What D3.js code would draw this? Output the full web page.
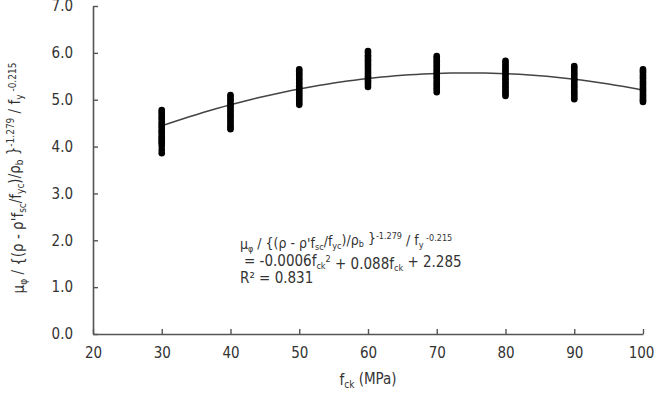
<!DOCTYPE html>
<html>
<head>
<meta charset="utf-8">
<script src="https://cdn.jsdelivr.net/npm/d3@7"></script>
<style>
  body { margin: 0; background: #fff; }
  svg text { font-family: "DejaVu Sans Condensed", "Liberation Sans Narrow", sans-serif; fill: #333; }
</style>
</head>
<body>
<div id="chart"></div>
<script>
// f_ck groups (MPa)
const fckGroups = [30, 40, 50, 60, 70, 80, 90, 100];
// values read from each vertical cluster
const vals30 = [4.78, 4.74, 4.70, 4.65, 4.61, 4.57, 4.52, 4.48, 4.44, 4.40, 4.35, 4.31, 4.27, 4.22, 4.18, 4.14, 4.10, 4.07, 4.01, 3.93, 3.86];
const vals40 = [5.10, 5.06, 5.01, 4.97, 4.92, 4.88, 4.84, 4.79, 4.75, 4.70, 4.66, 4.62, 4.57, 4.53, 4.48, 4.44, 4.40, 4.37];
const vals50 = [5.65, 5.61, 5.56, 5.52, 5.47, 5.43, 5.38, 5.34, 5.29, 5.25, 5.20, 5.16, 5.11, 5.07, 5.02, 4.98, 4.93, 4.89];
const vals60 = [6.04, 6.00, 5.95, 5.91, 5.86, 5.82, 5.77, 5.73, 5.68, 5.64, 5.59, 5.55, 5.50, 5.46, 5.41, 5.37, 5.32, 5.27];
const vals70 = [5.93, 5.89, 5.84, 5.80, 5.75, 5.71, 5.66, 5.62, 5.57, 5.53, 5.48, 5.44, 5.39, 5.34, 5.30, 5.25, 5.21, 5.16];
const vals80 = [5.83, 5.79, 5.74, 5.70, 5.65, 5.61, 5.56, 5.52, 5.47, 5.43, 5.38, 5.34, 5.29, 5.25, 5.20, 5.16, 5.12, 5.08];
const vals90 = [5.72, 5.68, 5.64, 5.59, 5.55, 5.51, 5.46, 5.42, 5.38, 5.33, 5.29, 5.25, 5.20, 5.16, 5.12, 5.08, 5.04, 5.01];
const vals100 = [5.65, 5.61, 5.57, 5.52, 5.48, 5.44, 5.39, 5.35, 5.31, 5.26, 5.22, 5.18, 5.13, 5.09, 5.05, 5.01, 4.98, 4.95];
const groupVals = [vals30, vals40, vals50, vals60, vals70, vals80, vals90, vals100];

// quadratic trend line (a, b, c), as drawn in the picture
const trendCoef = [-0.00057, 0.085, 2.404];

const xTicks = [20, 30, 40, 50, 60, 70, 80, 90, 100];
const yTicks = [0, 1, 2, 3, 4, 5, 6, 7];

const width = 655;
const height = 411;
const margin = { top: 6, right: 12, bottom: 77, left: 93 };
const innerWidth = width - margin.left - margin.right;
const innerHeight = height - margin.top - margin.bottom;

const svg = d3.select("#chart")
  .append("svg")
  .attr("width", width)
  .attr("height", height);

const g = svg.append("g")
  .attr("transform", `translate(${margin.left},${margin.top})`);

const x = d3.scaleLinear().domain([20, 100]).range([0, innerWidth]);
const y = d3.scaleLinear().domain([0, 7]).range([innerHeight, 0]);

// Axes (ticks point inward)
const xAxis = g.append("g")
  .attr("transform", `translate(0,${innerHeight})`)
  .call(d3.axisBottom(x).tickValues(xTicks).tickSizeInner(-5).tickSizeOuter(0).tickPadding(13));
const yAxis = g.append("g")
  .call(d3.axisLeft(y).tickValues(yTicks).tickSizeInner(-5).tickSizeOuter(0).tickPadding(20).tickFormat(d3.format(".1f")));

[xAxis, yAxis].forEach(a => {
  a.select(".domain").attr("stroke", "#555").attr("stroke-width", 1.6);
  a.selectAll(".tick line").attr("stroke", "#555").attr("stroke-width", 1.4);
  a.selectAll(".tick text").style("font-size", "15px").attr("fill", "#444");
});
xAxis.selectAll(".tick text").filter(d => d === 100).attr("dx", -2);

// Trend curve
const curvePts = d3.range(30, 100.01, 1).map(v => [v, trendCoef[0] * v * v + trendCoef[1] * v + trendCoef[2]]);
g.append("path")
  .datum(curvePts)
  .attr("fill", "none")
  .attr("stroke", "#444")
  .attr("stroke-width", 1.5)
  .attr("d", d3.line().x(d => x(d[0])).y(d => y(d[1])));

// Points
const points = [];
fckGroups.forEach((f, i) => groupVals[i].forEach(v => points.push({ f, v })));
g.selectAll(".pt")
  .data(points)
  .enter()
  .append("circle")
  .attr("class", "pt")
  .attr("cx", d => x(d.f))
  .attr("cy", d => y(d.v))
  .attr("r", 3.3)
  .attr("fill", "#000");

// rich text helper: parts = [[text, ""|"sub"|"sup"], ...]
function richText(sel, parts, small) {
  let cur = 0;
  parts.forEach(([t, mode]) => {
    const target = mode === "sub" ? 0.3 : mode === "sup" ? -0.45 : 0;
    sel.append("tspan")
      .attr("dy", (target - cur) + "em")
      .style("font-size", mode ? small + "px" : null)
      .text(t);
    cur = target;
  });
}

const formulaParts = [
  ["μ", ""], ["φ", "sub"], [" / {(ρ - ρ'f", ""], ["sc", "sub"], ["/f", ""], ["yc", "sub"],
  [")/ρ", ""], ["b", "sub"], [" }", ""], ["-1.279", "sup"], [" / f", ""], ["y", "sub"], [" -0.215", "sup"]
];

// Y axis label
const yl = svg.append("text")
  .attr("transform", "translate(24,178) rotate(-90)")
  .attr("text-anchor", "middle")
  .style("font-size", "15px");
richText(yl, formulaParts, 10);

// X axis label
const xl = svg.append("text")
  .attr("x", margin.left + innerWidth / 2)
  .attr("y", 385)
  .attr("text-anchor", "middle")
  .style("font-size", "15px");
richText(xl, [["f", ""], ["ck", "sub"], [" (MPa)", ""]], 10);

// Regression annotation
const ann = svg.append("g").attr("transform", "translate(240,0)");
const l1 = ann.append("text").attr("y", 249).style("font-size", "14px");
richText(l1, formulaParts, 9);

const l2 = ann.append("text").attr("x", 4).attr("y", 266).style("font-size", "15px");
richText(l2, [["= -0.0006f", ""], ["ck", "sub"], ["2", "sup"], ["  + 0.088f", ""], ["ck", "sub"], [" + 2.285", ""]], 9);

ann.append("text").attr("y", 283).style("font-size", "15px").text("R² = 0.831");
</script>
</body>
</html>
